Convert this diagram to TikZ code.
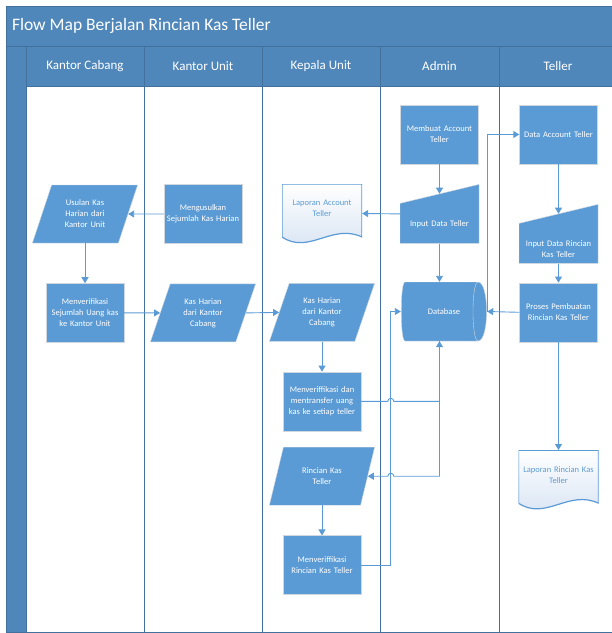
\documentclass[tikz,border=0pt]{standalone}
\usepackage{fontspec}
\setmainfont{Carlito}
\usetikzlibrary{arrows.meta,positioning,shapes.geometric}
\definecolor{band}{HTML}{4F87BA}
\definecolor{bandline}{HTML}{41719C}
\definecolor{shapeblue}{HTML}{5B9BD5}
\definecolor{shapeline}{HTML}{D0D7DE}
\definecolor{docblue}{HTML}{D5E2F2}
\tikzset{every picture/.style={
  >={Triangle[length=6pt,width=7pt]}   % Filled arrow heads.
  }
}

\begin{document}
\begin{tikzpicture}[x=1pt,y=-1pt,
    process/.style={            % Plain process boxes.
      rectangle,
      draw=shapeline,
      fill=shapeblue,
      text=white,
      align=center,
      text width=74pt,
      inner sep=2pt,
      minimum width=78pt,
      minimum height=59pt,
      font=\fontsize{8.5}{11}\selectfont
    },
    data/.style={               % Parallelograms for data.
      trapezium,
      trapezium left angle=63.4,
      trapezium right angle=116.6,
      trapezium stretches=true,
      draw=shapeline,
      fill=shapeblue,
      text=white,
      align=center,
      text width=50pt,
      inner sep=1pt,
      minimum width=106pt,
      minimum height=58pt,
      font=\fontsize{8.5}{11}\selectfont
    },
    manin/.style={              % Manual input, slanted top.
      rectangle,
      text=white,
      align=center,
      text width=74pt,
      inner sep=2pt,
      minimum width=79pt,
      minimum height=59pt,
      font=\fontsize{8.5}{11}\selectfont,
      path picture={
        \filldraw[fill=shapeblue,draw=shapeline]
          (path picture bounding box.south west) --
          (path picture bounding box.south east) --
          (path picture bounding box.north east) --
          ([yshift=-19pt] path picture bounding box.north west) -- cycle;
      }
    },
    doc/.style={                % Printed documents, wavy bottom.
      rectangle,
      text=shapeblue,
      align=center,
      text width=74pt,
      inner sep=2pt,
      text depth=21pt,
      minimum width=80pt,
      minimum height=59pt,
      font=\fontsize{8.5}{11}\selectfont,
      path picture={
        \shadedraw[top color=white,bottom color=docblue,draw=shapeblue,line width=1.2pt]
          (path picture bounding box.north west) --
          (path picture bounding box.north east) --
          ([yshift=6pt] path picture bounding box.south east) .. controls
          ([xshift=-30pt,yshift=20pt] path picture bounding box.south east) and
          ([xshift=27pt,yshift=-12pt] path picture bounding box.south west) ..
          ([yshift=6pt] path picture bounding box.south west) -- cycle;
      }
    },
    store/.style={              % Direct access storage, drum on its side.
      rectangle,
      text=white,
      minimum width=86pt,
      minimum height=59pt,
      inner sep=0pt,
      font=\fontsize{8.5}{11}\selectfont,
      path picture={
        \filldraw[fill=shapeblue,draw=shapeline]
          ([xshift=4pt] path picture bounding box.north west) --
          ([xshift=-9pt] path picture bounding box.north east) .. controls
          ([xshift=2.5pt] path picture bounding box.north east) and
          ([xshift=2.5pt] path picture bounding box.south east) ..
          ([xshift=-9pt] path picture bounding box.south east) --
          ([xshift=4pt] path picture bounding box.south west) .. controls
          ([xshift=-1pt] path picture bounding box.south west) and
          ([xshift=-1pt] path picture bounding box.north west) .. cycle;
        \draw[shapeline]
          ([xshift=-9pt] path picture bounding box.north east) .. controls
          ([xshift=-15.7pt] path picture bounding box.north east) and
          ([xshift=-15.7pt] path picture bounding box.south east) ..
          ([xshift=-9pt] path picture bounding box.south east);
      }
    },
    lanehead/.style={           % Lane captions.
      text=white,
      font=\fontsize{13}{15}\selectfont
    },
    laneline/.style={           % Frame and lane borders.
      draw=bandline,
      line width=1pt
    },
    flow/.style={               % Connectors between steps.
      ->,
      draw=shapeblue,
      line width=0.9pt
    }]

    % Frame of the swim lanes.
    \useasboundingbox (0,0) rectangle (612,633);
    \fill[band] (6,6) rectangle (617,86);
    \fill[band] (6,86) rectangle (26,632);
    \draw[laneline] (617,46) -- (6,46) (26,86) -- (617,86);
    \foreach \lx in {26,144,262,380,499}
      \draw[laneline] (\lx,46) -- (\lx,632);
    \draw[laneline] (6,6) rectangle (617,632);
    \node[lanehead,font=\fontsize{17.5}{20}\selectfont,anchor=west] (title) at (8.5,26)
      {Flow Map Berjalan Rincian Kas Teller};
    \foreach \lx/\lname [count=\i] in {85/Kantor Cabang,203/Kantor Unit,
        321/Kepala Unit,439.5/Admin,558/Teller}
      \node[lanehead] (lane\i) at (\lx,66) {\lname};

    % Kantor Cabang and Kantor Unit.
    \node[data] (ukh) at (85,214) {Usulan Kas\\Harian dari\\Kantor Unit};
    \node[process] (mvs) [below=40pt of ukh] {Menverifikasi\\Sejumlah Uang kas\\ke Kantor Unit};
    \node[process] (mgs) at (203,214) {Mengusulkan\\Sejumlah Kas Harian};
    \node[data] (khk) [below=40pt of mgs] {Kas Harian\\dari Kantor\\Cabang};

    % Kepala Unit.
    \node[doc] (lat) at (322,213.5) {Laporan Account\\Teller};
    \node[data] (khp) [below=40pt of lat] {Kas Harian\\dari Kantor\\Cabang};
    \node[process] (mtr) [below=30pt of khp] {Menveriffikasi dan\\mentransfer uang\\kas ke setiap teller};
    \node[data] (rkt) [below=16pt of mtr] {Rincian Kas\\Teller};
    \node[process] (mrk) [below=30pt of rkt] {Menveriffikasi\\Rincian Kas Teller};

    % Admin.
    \node[process] (mat) at (439.5,134.5) {Membuat Account\\Teller};
    \node[manin,text height=26pt] (idt) [below=20pt of mat] {Input Data Teller};
    \node[store] (db) at (444,311.5) {Database};

    % Teller.
    \node[process] (dat) at (558.5,134.5) {Data Account Teller};
    \node[manin,text height=37pt] (idr) [below=40pt of dat] {Input Data Rincian\\Kas Teller};
    \node[process] (ppr) [below=19pt of idr] {Proses Pembuatan\\Rincian Kas Teller};
    \node[doc] (lrk) [below=108pt of ppr] {Laporan Rincian Kas\\Teller};

    % Connect the steps.
    \draw[flow] (mgs.west) -- (ukh.east);
    \draw[flow] (ukh.south) -- (mvs.north);
    \draw[flow] (mvs.east) -- (khk.west);
    \draw[flow] (khk.east) -- (khp.west);
    \draw[flow] (khp.south) -- (mtr.north);
    \draw[flow] (rkt.south) -- (mrk.north);
    \draw[flow] (mat.south) -- ([yshift=-9.5pt] idt.north);
    \draw[flow] (idt.west) -- (lat.east);
    \draw[flow] (idt.south) -- (idt.south |- db.north);
    \draw[flow] (ppr.west) -- (db.east);
    \draw[flow] (db.east) |- (dat.west);
    \draw[flow] (dat.south) -- ([yshift=-9.5pt] idr.north);
    \draw[flow] (idr.south) -- (ppr.north);
    \draw[flow] (ppr.south) -- (lrk.north);

    % Lines that cross the return line jump over it.
    \draw[flow] (mtr.east) -- ([xshift=-13pt] db.west |- mtr.east)
      arc[start angle=180,end angle=0,radius=3pt] -| (idt.south |- db.south);
    \draw[flow] (idt.south |- db.south) |- ([xshift=-7pt] db.west |- rkt.east)
      arc[start angle=0,end angle=180,radius=3pt] -- (rkt.east);
    \draw[flow] (mrk.east) -| ([xshift=-10pt] db.west) -- (db.west);
\end{tikzpicture}
\end{document}
